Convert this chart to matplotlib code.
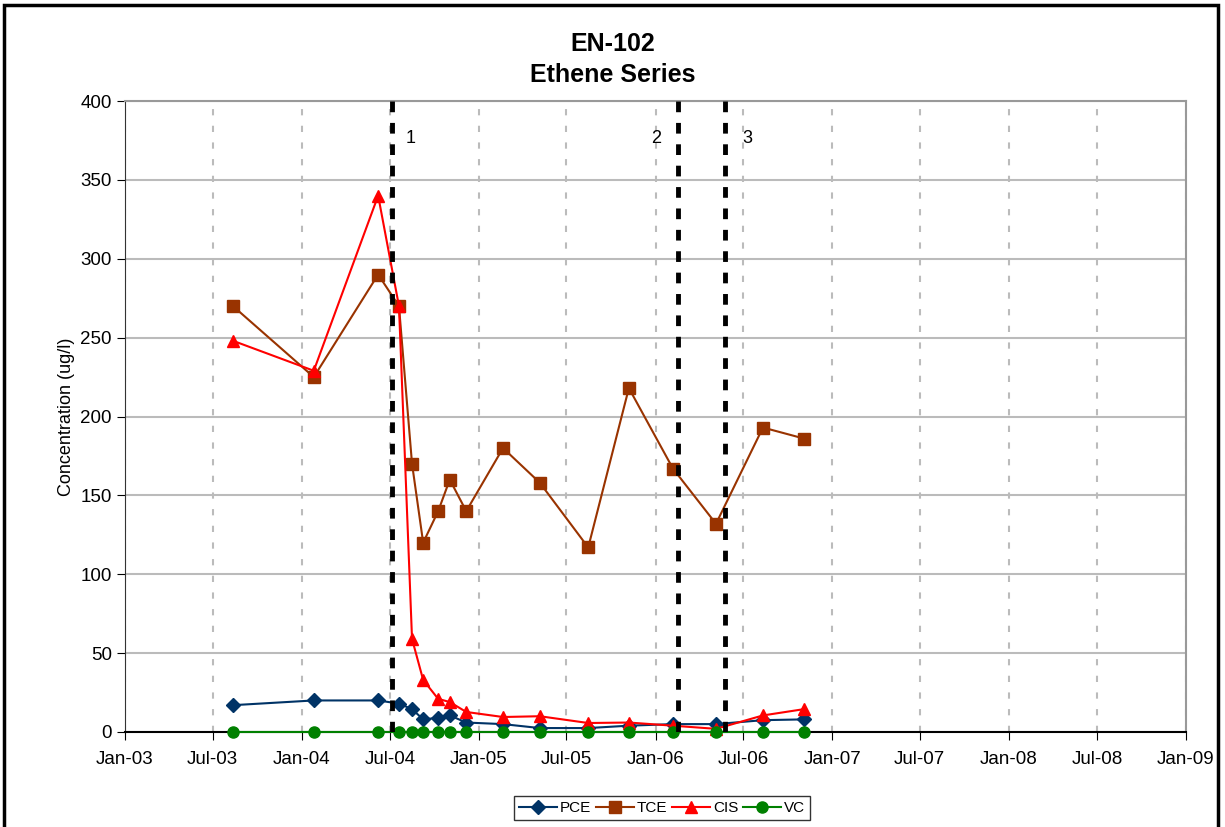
import datetime as dt
import matplotlib
matplotlib.use("Agg")
from matplotlib import pyplot as plt
from matplotlib import dates as mdates
from matplotlib.patches import Rectangle

plt.rcParams['font.family'] = ['Liberation Sans', 'DejaVu Sans']

sample_dates = ["2003-08-12", "2004-01-26", "2004-06-07", "2004-07-20", "2004-08-16",
                "2004-09-08", "2004-10-09", "2004-11-02", "2004-12-06", "2005-02-20",
                "2005-05-07", "2005-08-15", "2005-11-07", "2006-02-06", "2006-05-06",
                "2006-08-11", "2006-11-04"]
pce = [17, 20, 20, 18, 14.5, 8, 9, 10.5, 6, 5, 2.5, 2.5, 4, 5, 5, 7.5, 8]
tce = [270, 225, 290, 270, 170, 120, 140, 160, 140, 180, 158, 117, 218, 167, 132, 193, 186]
cis = [248, 229, 340, 270, 59, 33, 21, 19, 12.7, 9.5, 10, 5.7, 6, 4, 2, 10.5, 14.5]
vc = [0] * 17

event_dates = ["2004-07-06", "2006-02-17", "2006-05-25"]
event_labels = ["1", "2", "3"]
label_shift_days = [38, -45, 45]

def main():
    dates = [dt.datetime.strptime(d, "%Y-%m-%d") for d in sample_dates]
    events = [dt.datetime.strptime(d, "%Y-%m-%d") for d in event_dates]

    fig = plt.figure(figsize=(12.25, 8.27), dpi=100)
    ax = fig.add_axes([125 / 1225, 95 / 827, (1186 - 125) / 1225, (732 - 101) / 827])

    ax.plot(dates, pce, color='#003366', marker='D', markersize=7, lw=1.5, label='PCE', zorder=5, clip_on=False)
    ax.plot(dates, tce, color='#993300', marker='s', markersize=8, lw=1.5, label='TCE', zorder=4, clip_on=False)
    ax.plot(dates, cis, color='#FF0000', marker='^', markersize=9, lw=1.5, label='CIS', zorder=6, clip_on=False)
    ax.plot(dates, vc, color='#008000', marker='o', markersize=8, lw=1.5, label='VC', zorder=7, clip_on=False)

    for d, lab, shift in zip(events, event_labels, label_shift_days):
        ax.axvline(d, color='black', lw=3.5, ls=(0, (2.2, 2.2)), zorder=8)
        ax.text(d + dt.timedelta(days=shift), 376, lab, fontsize=13, ha='center', va='center')

    ax.set_xlim(dt.datetime(2003, 1, 1), dt.datetime(2009, 1, 1))
    ax.set_ylim(0, 400)
    ax.set_yticks(range(0, 401, 50))
    ax.xaxis.set_major_locator(mdates.MonthLocator(bymonth=[1, 7]))
    ax.xaxis.set_major_formatter(mdates.DateFormatter('%b-%y'))
    ax.tick_params(axis='both', labelsize=13.5, direction='out', length=6, color='black')
    ax.tick_params(axis='x', pad=8)
    ax.grid(axis='y', color='#BBBBBB', lw=1.5, ls='-')
    ax.grid(axis='x', color='#BBBBBB', lw=1.5, ls=(0, (3, 5)))
    ax.set_axisbelow(True)
    for side in ['top', 'right']:
        ax.spines[side].set_color('#999999')
        ax.spines[side].set_linewidth(1.5)
    ax.spines['left'].set_color('#333333')
    ax.spines['bottom'].set_color('black')
    ax.spines['bottom'].set_linewidth(1.5)

    ax.set_ylabel('Concentration (ug/l)', fontsize=13)
    fig.text(0.5, 1 - 44 / 827, 'EN-102', fontsize=18, fontweight='bold', ha='center', va='center')
    fig.text(0.5, 1 - 75 / 827, 'Ethene Series', fontsize=18, fontweight='bold', ha='center', va='center')

    leg = fig.legend(loc='center', bbox_to_anchor=(662 / 1225, 1 - 808 / 827), ncol=4,
                     fontsize=11, frameon=True, fancybox=False, edgecolor='black',
                     handlelength=2.5, columnspacing=0.3, handletextpad=0.2, borderpad=0.3,
                     borderaxespad=0)
    leg.get_frame().set_linewidth(1)

    fig.patches.append(Rectangle((4 / 1225, -0.05), (1218 - 4) / 1225, 1.05 - 5 / 827,
                                 transform=fig.transFigure, fill=False,
                                 edgecolor='black', lw=2.5))

    fig.savefig('out.png', dpi=100)

if __name__ == "__main__":
    main()
